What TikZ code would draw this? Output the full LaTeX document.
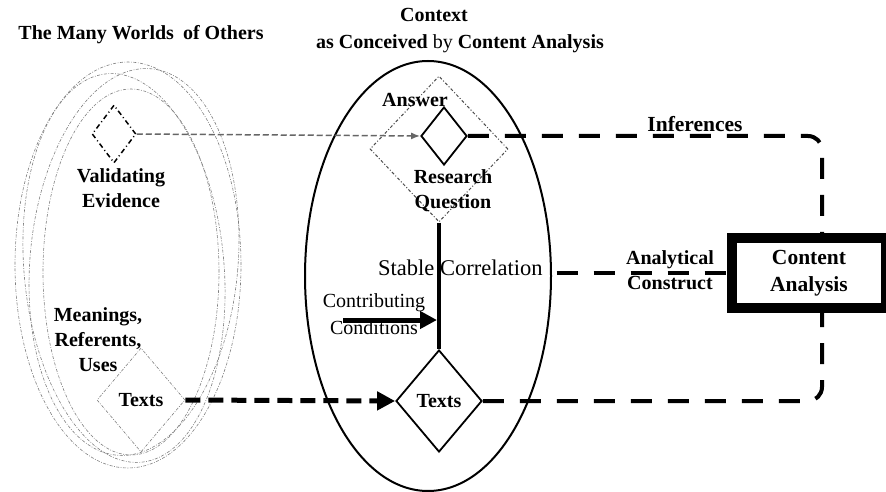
\documentclass[tikz,border=0pt]{standalone}
\usepackage{fontspec}
\setmainfont{Liberation Serif}
\usetikzlibrary{shapes.geometric,arrows.meta}
\begin{document}
\begin{tikzpicture}[x=1pt,y=-1pt,
  lbl/.style={font=\fontsize{20}{25}\selectfont\bfseries, align=center, inner sep=0pt},
  biglbl/.style={font=\fontsize{21.5}{27}\selectfont\bfseries, align=center, inner sep=0pt},
  rlbl/.style={font=\fontsize{20}{24}\selectfont, inner sep=0pt},
  worldline/.style={draw=black!50, line width=0.6pt, dash pattern=on 3pt off 1.5pt on 0.8pt off 1.5pt},
  bigdash/.style={line width=4pt, dash pattern=on 21pt off 16pt},
  solidia/.style={diamond, draw, line width=1.8pt, inner sep=0pt},
]
\useasboundingbox (0,0) rectangle (886,492);
\fill[white] (0,0) rectangle (886,492);

% titles
\node[lbl] (t1) at (141,35) {The Many Worlds\hspace{0.2em} of Others};
\node[lbl] (t2) at (434,15) {Context};
\node[lbl] (t3) at (460,44) {as Conceived {\mdseries by} Content Analysis};

% many worlds ellipses
\draw[worldline] (128,265) ellipse [x radius=113pt, y radius=203pt];
\draw[worldline, rotate around={-5:(134,262)}] (134,262) ellipse [x radius=104pt, y radius=194pt];
\draw[worldline, rotate around={5:(124,268)}] (124,268) ellipse [x radius=100pt, y radius=195pt];
\draw[worldline] (131,272) ellipse [x radius=88pt, y radius=183pt];

% context ellipse
\node[ellipse, draw, line width=2pt, minimum width=246pt, minimum height=430pt] (ctx) at (428,276) {};

% left side
\node[diamond, draw, line width=1.5pt, dash pattern=on 5pt off 3pt on 1pt off 3pt,
      minimum width=44pt, minimum height=58pt, inner sep=0pt] (vd) at (114,134) {};
\node[lbl] (ve) at (121,188) {Validating\\Evidence};
\node[diamond, worldline, minimum width=88pt, minimum height=104pt, inner sep=0pt,
      font=\fontsize{20}{25}\selectfont\bfseries] (ltx) at (141,400) {Texts};
\node[lbl] (mru) at (98,340) {Meanings,\\Referents,\\Uses};

% research question
\node[diamond, draw=black!70, line width=1pt, dash pattern=on 3pt off 2pt on 1pt off 2pt,
      minimum width=138pt, minimum height=146pt, inner sep=0pt] (rq) at (439,149) {};
\node[solidia, minimum width=46pt, minimum height=58pt] (ans) at (444,136) {};
\node[lbl] (anst) at (415,100) {Answer};
\node[lbl] (rqt) at (453,191) {Research\\Question};

% texts diamond
\node[solidia, minimum width=86pt, minimum height=102pt,
      font=\fontsize{20}{25}\selectfont\bfseries] (txt) at (439,401) {Texts};

% stable correlation line
\draw[line width=4pt] (rq.south) -- (txt.north);
\node[font=\fontsize{22.5}{26}\selectfont, inner sep=0pt, anchor=west] (sc) at (378,268) {Stable Correlation};

% contributing conditions
\node[rlbl] (ct1) at (374,303) {Contributing};
\node[rlbl] (ct2) at (374,328) {Conditions};
\coordinate (cstart) at (343,320);
\draw[line width=5pt, shorten >=2pt, -{Triangle[length=17pt,width=17pt]}] (cstart) -- (cstart -| txt.north);

% content analysis
\node[draw, line width=10pt, minimum width=154pt, minimum height=70pt, biglbl] (ca) at (809,273) {Content\\Analysis};
\node[biglbl] (inf) at (695,124) {Inferences};
\node[lbl] (act) at (670,270) {Analytical\\Construct};

\coordinate (rc) at (822,137);
\draw[bigdash, rounded corners=14pt] (ans.east) -- (ans.east -| rc) -- (rc |- ca.north);
\draw[bigdash, rounded corners=14pt] (txt.east) -- (txt.east -| rc) -- (rc |- ca.south);
\draw[bigdash, shorten <=14pt] (sc.east |- ca.west) -- (ca.west);

% arrows into context
\draw[black!60, line width=1.5pt, dash pattern=on 6pt off 3pt, -{Latex[length=9pt,width=7pt]}] (vd.east) -- (ans.west);
\draw[line width=5pt, dash pattern=on 15pt off 8pt, -{Triangle[length=18pt,width=18pt]}] (ltx.east) -- (txt.west);
\end{tikzpicture}
\end{document}
